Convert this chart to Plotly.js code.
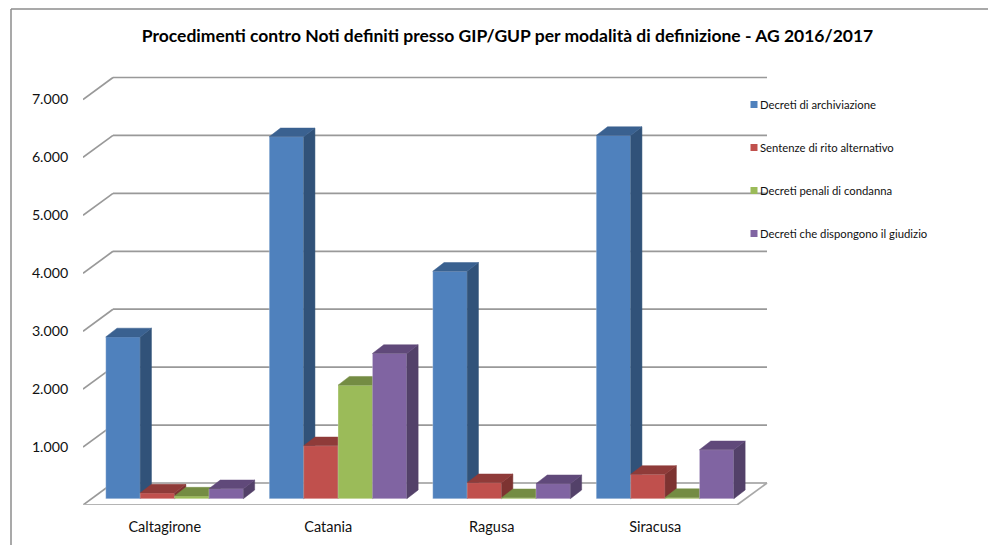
<!DOCTYPE html>
<html><head><meta charset="utf-8">
<script src="https://cdn.plot.ly/plotly-3.0.1.min.js"></script>
<style>html,body{margin:0;padding:0;background:#fff;overflow:hidden}#c{width:988px;height:545px}</style>
</head><body><div id="c"></div>
<script>
// --- data ---
const categories = ['Caltagirone','Catania','Ragusa','Siracusa'];
const seriesNames = ['Decreti di archiviazione','Sentenze di rito alternativo','Decreti penali di condanna','Decreti che dispongono il giudizio'];
const archiviazione = [2793, 6248, 3926, 6270];
const ritoAlternativo = [98, 914, 276, 420];
const penaliCondanna = [46, 1960, 17, 20];
const giudizio = [172, 2507, 259, 845];
const yTicks = [1000,2000,3000,4000,5000,6000,7000];
const chartTitle = 'Procedimenti contro Noti definiti presso GIP/GUP per modalità di definizione - AG 2016/2017';
const frontColors = ['#4F81BD','#C0504D','#9BBB59','#8064A2'];
const sideColors  = ['#315279','#7D3331','#657A3A','#534169'];
const topColors   = ['#3A6190','#8F3B39','#748C43','#60497A'];

// --- geometry: pixels per axis unit, and the 3D depth expressed in axis units ---
const W = 988, H = 545;
const L = 83, R = 770, T = 70, B = 505;
const pxPerCat = 163.5, pxPerVal = 57.93/1000;
const xRange = [-0.5, -0.5 + (R-L)/pxPerCat];
const yRange = [0, (B-T)/pxPerVal];
const cx = p => p/pxPerCat, cy = p => p/pxPerVal;
const wallDx = cx(30), wallDy = cy(22);
const barDx = cx(11.3), barDy = cy(8.7);
const baseVal = cy(6.3);
const barW = cx(34.4), groupLeft = cx(-59);
const fontName = 'Lato, Carlito, Calibri, sans-serif';
const gridColor = '#999999';

const allSeries = [archiviazione, ritoAlternativo, penaliCondanna, giudizio];
const traces = [];
allSeries.forEach((vals, s) => {
  const ax = s === 0 ? '' : String(s+1);
  const xa = 'x'+ax, ya = 'y'+ax;
  const off = groupLeft + s*barW;
  traces.push({type:'bar', name:seriesNames[s], x:categories.map((_,i)=>i), y:vals, base:baseVal,
    width:barW, offset:off, xaxis:xa, yaxis:ya, legendgroup:'g'+s,
    marker:{color:frontColors[s], line:{color:'rgba(255,255,255,0.25)', width:1}}, hoverinfo:'y+name'});
  vals.forEach((v,i) => {
    const x0 = i+off, x1 = x0+barW, y0 = baseVal, y1 = baseVal+v;
    traces.push({type:'scatter', mode:'lines', fill:'toself', showlegend:false, hoverinfo:'skip', xaxis:xa, yaxis:ya,
      x:[x1,x1+barDx,x1+barDx,x1,x1], y:[y0,y0+barDy,y1+barDy,y1,y0],
      line:{width:0.5,color:sideColors[s]}, fillcolor:sideColors[s]});
    traces.push({type:'scatter', mode:'lines', fill:'toself', showlegend:false, hoverinfo:'skip', xaxis:xa, yaxis:ya,
      x:[x0,x1,x1+barDx,x0+barDx,x0], y:[y1,y1,y1+barDy,y1+barDy,y1],
      line:{width:0.5,color:topColors[s]}, fillcolor:topColors[s]});
  });
});

// back wall, left wall and floor
const shapes = [];
const lineShape = (x0,y0,x1,y1,c,w) => ({type:'line',layer:'below',xref:'x',yref:'y',x0,y0,x1,y1,line:{color:c,width:w}});
const xL = xRange[0], xFront = 3.5;
[0].concat(yTicks).forEach(v => {
  shapes.push(lineShape(xL, v, xL+wallDx, v+wallDy, gridColor, 1.7));
  shapes.push(lineShape(xL+wallDx, v+wallDy, xFront+wallDx, v+wallDy, gridColor, 1.7));
});
shapes.push(lineShape(xL, 0, xFront, 0, '#b4b4b4', 2));
shapes.push(lineShape(xFront, 0, xFront+wallDx, wallDy, '#a8a8a8', 1.7));
// frame of the chart
const pxX = p => (p-L)/(R-L), pxY = p => (B-p)/(B-T);
const frame = [[11,546,11,9],[11,9,989,9]];
frame.forEach(f => shapes.push({type:'line',layer:'above',xref:'paper',yref:'paper',
  x0:pxX(f[0]),y0:pxY(f[1]),x1:pxX(f[2]),y1:pxY(f[3]),line:{color:'#8c8c8c',width:1.5}}));

const baseAxisX = {range:xRange, showgrid:false, zeroline:false, showline:false, fixedrange:true};
const baseAxisY = {range:yRange, showgrid:false, zeroline:false, showline:false, fixedrange:true};
const layout = {
  width:W, height:H, paper_bgcolor:'#fff', plot_bgcolor:'rgba(0,0,0,0)',
  margin:{l:L, r:W-R, t:T, b:H-B, pad:0}, separators:',.', barmode:'overlay', showlegend:true,
  font:{family:fontName, color:'#111'},
  title:{text:'<b>'+chartTitle+'</b>', font:{family:fontName, size:17.5, color:'#000'}, x:507.5/W, xanchor:'center', y:1-36/H, yanchor:'middle'},
  xaxis:Object.assign({}, baseAxisX, {tickmode:'array', tickvals:categories.map((_,i)=>i), ticktext:categories,
    ticks:'outside', ticklen:9, tickcolor:'rgba(0,0,0,0)', tickfont:{size:14.5, family:fontName, color:'#111'}}),
  yaxis:Object.assign({}, baseAxisY, {tickmode:'array', tickvals:yTicks, tickformat:',.0f', ticklabelshift:-1.5,
    ticks:'outside', ticklen:11, tickcolor:'rgba(0,0,0,0)', tickfont:{size:14.2, family:fontName, color:'#111'}}),
  legend:{x:pxX(720), xanchor:'left', y:pxY(90), yanchor:'top', bgcolor:'rgba(0,0,0,0)', borderwidth:0,
    font:{size:11.3, family:fontName, color:'#111'}, tracegroupgap:24, traceorder:'grouped', itemclick:false, itemdoubleclick:false},
  shapes
};
[2,3,4].forEach(n => {
  layout['xaxis'+n] = Object.assign({}, baseAxisX, {overlaying:'x', anchor:'y'+n, visible:false});
  layout['yaxis'+n] = Object.assign({}, baseAxisY, {overlaying:'y', anchor:'x'+n, visible:false});
});
Plotly.newPlot('c', traces, layout, {displayModeBar:false}).then(() => {
  // Smaller swatches set close to the legend text, as in the original.
  document.querySelectorAll('.legend .legendpoints path').forEach(p => {
    p.setAttribute('d','M3.5,3.5H-3.5V-3.5H3.5Z');
    p.setAttribute('transform','translate(34,0)');
    p.style.strokeWidth = '0';
  });
});
</script></body></html>
